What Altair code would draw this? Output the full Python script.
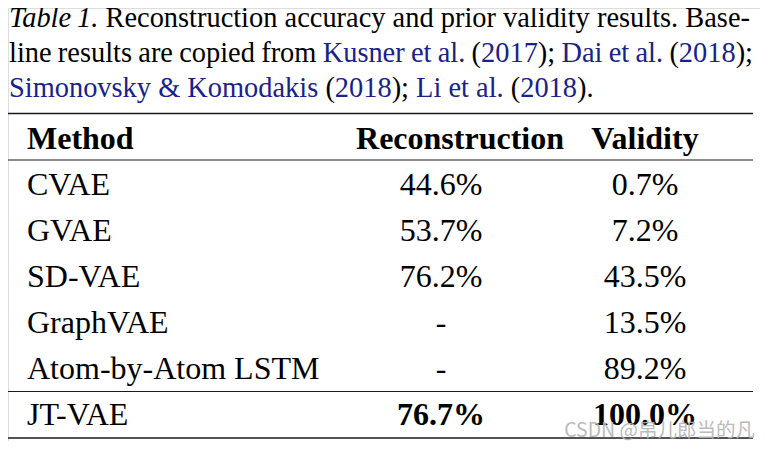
import altair as alt
import pandas as pd

# ---------------- data ----------------
methods = ["CVAE", "GVAE", "SD-VAE", "GraphVAE", "Atom-by-Atom LSTM", "JT-VAE"]
reconstruction = ["44.6%", "53.7%", "76.2%", "-", "-", "76.7%"]
validity = ["0.7%", "7.2%", "43.5%", "13.5%", "89.2%", "100.0%"]
headers = ["Method", "Reconstruction", "Validity"]
best_row = "JT-VAE"

# caption pieces: (text, colour key, italic, space before: "" none, "s" stretchable, "f" fixed)
caption_line1 = [("Table", "k", True, ""), ("1.", "k", True, "f"),
                 ("Reconstruction", "k", False, "s"), ("accuracy", "k", False, "s"),
                 ("and", "k", False, "s"), ("prior", "k", False, "s"),
                 ("validity", "k", False, "s"), ("results.", "k", False, "s"),
                 ("Base-", "k", False, "s")]
caption_line2 = [("line", "k", False, ""), ("results", "k", False, "s"),
                 ("are", "k", False, "s"), ("copied", "k", False, "s"),
                 ("from", "k", False, "s"), ("Kusner", "b", False, "s"),
                 ("et", "b", False, "s"), ("al.", "b", False, "s"),
                 ("(", "k", False, "s"), ("2017", "b", False, ""),
                 (");", "k", False, ""), ("Dai", "b", False, "s"),
                 ("et", "b", False, "s"), ("al.", "b", False, "s"),
                 ("(", "k", False, "s"), ("2018", "b", False, ""),
                 (");", "k", False, "")]
caption_line3 = [("Simonovsky", "b", False, ""), ("&", "b", False, "s"),
                 ("Komodakis", "b", False, "s"), ("(", "k", False, "s"),
                 ("2018", "b", False, ""), (");", "k", False, ""),
                 ("Li", "b", False, "s"), ("et", "b", False, "s"),
                 ("al.", "b", False, "s"), ("(", "k", False, "s"),
                 ("2018", "b", False, ""), (").", "k", False, "")]
watermark = "CSDN @帛儿郎当的凡"

# ---------------- layout / style ----------------
W, H = 768, 449
BLUE = "#18228a"
CAP_FS = 28.4
TAB_FS = 32
SERIF = "Liberation Serif, Times New Roman, Times, serif"

roman = {" ": 250, "(": 333, ")": 333, "&": 778, "-": 333, ".": 250, ";": 278, "%": 833}
for d in "0123456789":
    roman[d] = 500
roman.update(dict(A=722, B=667, C=667, D=722, E=611, F=556, G=722, H=722, I=333, J=389,
                  K=722, L=611, M=889, N=722, O=722, P=556, Q=722, R=667, S=556, T=611,
                  U=722, V=722, W=944, X=722, Y=722, Z=611))
roman.update(dict(a=444, b=500, c=444, d=500, e=444, f=333, g=500, h=500, i=278, j=278,
                  k=500, l=278, m=778, n=500, o=500, p=500, q=500, r=333, s=389, t=278,
                  u=500, v=500, w=722, x=500, y=500, z=444))
italic = dict(roman)
italic.update({"T": 556, "a": 500})


def text_w(s, it, fs):
    tbl = italic if it else roman
    return sum(tbl.get(c, 500) for c in s) * fs / 1000.0


def lay_line(pieces, x0, y, x1=None):
    base_sp = 250 * CAP_FS / 1000.0
    fixed_sp = 120 * CAP_FS / 1000.0
    nat = sum(text_w(t, it, CAP_FS) for t, _, it, _ in pieces)
    nat += fixed_sp * sum(1 for p in pieces if p[3] == "f")
    nsp = sum(1 for p in pieces if p[3] == "s")
    sp = base_sp
    if x1 is not None and nsp:
        sp = (x1 - x0 - nat) / nsp
    rows, x = [], x0
    for t, col, it, gap in pieces:
        if gap == "s":
            x += sp
        elif gap == "f":
            x += fixed_sp
        rows.append(dict(text=t, x=x, y=y, color=BLUE if col == "b" else "#000000",
                         style="italic" if it else "normal"))
        x += text_w(t, it, CAP_FS)
    return rows


cap_rows = (lay_line(caption_line1, 9, 27, 750)
            + lay_line(caption_line2, 9, 62, 753)
            + lay_line(caption_line3, 9, 97))
cap_df = pd.DataFrame(cap_rows)

# table positions
row_y0, row_step = 149, 46
method_x, recon_x, recon_head_x, valid_x = 27, 441, 460, 645

head_df = pd.DataFrame({"text": headers, "x": [method_x, recon_head_x, valid_x],
                        "y": [row_y0] * 3, "align": ["left", "center", "center"]})
body_rows = []
for i, (m, r, v) in enumerate(zip(methods, reconstruction, validity)):
    y = row_y0 + row_step * (i + 1)
    bold = m == best_row
    body_rows.append(dict(text=m, x=method_x, y=y, col="m", bold=False))
    body_rows.append(dict(text=r, x=recon_x, y=y, col="v", bold=bold))
    body_rows.append(dict(text=v, x=valid_x, y=y, col="v", bold=bold))
body_df = pd.DataFrame(body_rows)

rule_df = pd.DataFrame({"x": [8] * 4, "x2": [753] * 4,
                        "y": [113.5, 160, 391.5, 438], "w": [1.7, 1.1, 1.1, 1.7]})

xs = alt.Scale(domain=[8, W - 8], range=[0, W - 16])
ys = alt.Scale(domain=[8, H - 8], range=[0, H - 16])
X = alt.X("x:Q", scale=xs, axis=None)
Y = alt.Y("y:Q", scale=ys, axis=None)


def txt(df, **kw):
    base = dict(baseline="alphabetic", font=SERIF)
    base.update(kw)
    return alt.Chart(df).mark_text(**base).encode(x=X, y=Y, text="text:N")


cap_normal = txt(cap_df[cap_df["style"] == "normal"], align="left", fontSize=CAP_FS).encode(
    color=alt.Color("color:N", scale=None))
cap_italic = txt(cap_df[cap_df["style"] == "italic"], align="left", fontSize=CAP_FS,
                 fontStyle="italic").encode(color=alt.Color("color:N", scale=None))

head_left = txt(head_df[head_df["align"] == "left"], align="left", fontSize=TAB_FS,
                fontWeight="bold", color="#000")
head_center = txt(head_df[head_df["align"] == "center"], align="center", fontSize=TAB_FS,
                  fontWeight="bold", color="#000")
body_m = txt(body_df[body_df["col"] == "m"], align="left", fontSize=TAB_FS, color="#000")
body_v = txt(body_df[(body_df["col"] == "v") & (~body_df["bold"])], align="center",
             fontSize=TAB_FS, color="#000")
body_b = txt(body_df[(body_df["col"] == "v") & (body_df["bold"])], align="center",
             fontSize=TAB_FS, fontWeight="bold", color="#000")

rules = alt.Chart(rule_df).mark_rule(color="#1a1a1a").encode(
    x=X, x2="x2:Q", y=alt.Y("y:Q", scale=ys, axis=None),
    strokeWidth=alt.StrokeWidth("w:Q", scale=None))

wm = alt.Chart(pd.DataFrame({"text": [watermark], "x": [755], "y": [437]})).mark_text(
    align="right", baseline="alphabetic", font="Noto Sans CJK SC", fontSize=19.5,
    color="#b4b4b4", opacity=0.9).encode(x=X, y=Y, text="text:N")

chart = alt.layer(rules, cap_normal, cap_italic, head_left, head_center, body_m, body_v,
                  body_b, wm).properties(
    width=W - 16, height=H - 16, padding=0,
    autosize=alt.AutoSizeParams(type="none")
).configure_view(stroke=None).configure(background="white")

chart.save("out.html", embed_options={"renderer": "svg", "actions": False})
